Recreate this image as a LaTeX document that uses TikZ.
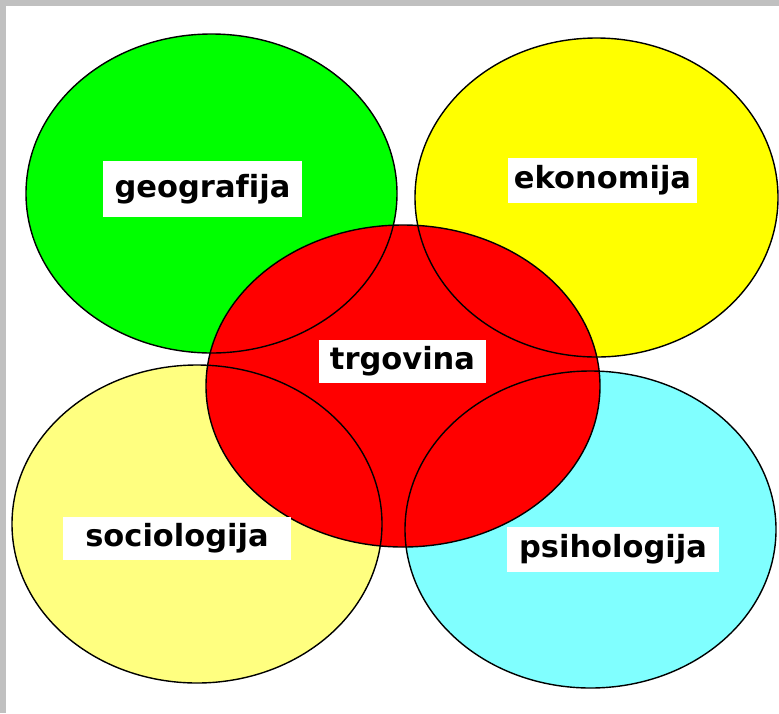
\documentclass[tikz,border=0pt]{standalone}
\usepackage{fontspec}
\setmainfont{DejaVu Sans}[Ligatures=NoCommon]
\definecolor{geoGreen}{HTML}{00FF00}
\definecolor{ekoYellow}{HTML}{FFFF00}
\definecolor{socYellow}{HTML}{FFFF80}
\definecolor{psiCyan}{HTML}{80FFFF}
\definecolor{trgRed}{HTML}{FF0000}
\definecolor{frameGray}{HTML}{C0C0C0}
\begin{document}
\begin{tikzpicture}[x=1pt,y=-1pt,
    tag/.style 2 args={fill=white, inner sep=0pt, minimum width=#1, minimum height=#2,
        font=\fontsize{30.5}{36}\selectfont\bfseries}]
        \useasboundingbox (0,0) rectangle (779,713);
        \fill[frameGray] (0,0) rectangle (779,713);
        \fill[white] (6,6) rectangle (779,713);
        % outer fields
        \foreach \c/\x/\y/\rx/\ry in {geoGreen/211.5/193.5/185.5/159.5,
                ekoYellow/596.5/197.5/181.5/159.5,
                socYellow/197/524/185/159,
                psiCyan/590.5/529.5/185.5/158.5} {
            \fill[\c] (\x,\y) ellipse [x radius=\rx pt, y radius=\ry pt];
        }
        % trade in the middle
        \fill[trgRed] (403,386) ellipse [x radius=197pt, y radius=161pt];
        \foreach \x/\y/\rx/\ry in {211.5/193.5/185.5/159.5, 596.5/197.5/181.5/159.5,
                197/524/185/159, 590.5/529.5/185.5/158.5, 403/386/197/161} {
            \draw[line width=1.4pt] (\x,\y) ellipse [x radius=\rx pt, y radius=\ry pt];
        }
        \node[tag={199}{56}] (geografija) at (202.5,189) {geografija};
        \node[tag={189}{45}] (ekonomija) at (602.5,180.5) {ekonomija};
        \node[tag={167}{43}] (trgovina) at (402.5,361.5) {trgovina};
        \node[tag={228}{43}] (sociologija) at (177,538.5) {sociologija};
        \node[tag={212}{45}] (psihologija) at (613,549.5) {psihologija};
    \end{tikzpicture}
\end{document}
